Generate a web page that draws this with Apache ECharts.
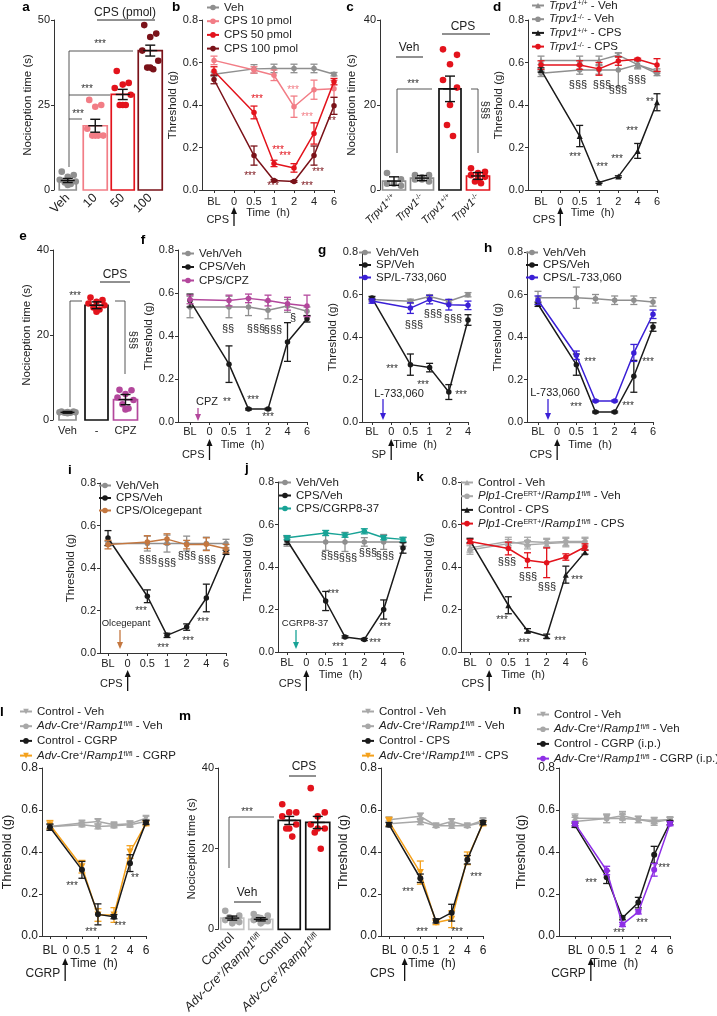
<!DOCTYPE html>
<html><head><meta charset="utf-8">
<script src="https://cdn.jsdelivr.net/npm/echarts@6/dist/echarts.min.js"></script>
<style>html,body{margin:0;padding:0;background:#fff}#c{width:717px;height:1016px}</style>
</head><body><div id="c"></div>
<script>
// ---------------- DATA ----------------
const timeLabels = ['BL','0','0.5','1','2','4','6'];
const timePos = [0,2,3,4,5,6];
const timePosG = [0,2,3,4,5];

// a
const aCats = ['Veh','10','50','100'];
const aMean = [2.8, 18.9, 28.1, 41.0];
const aSem = [0.6, 1.9, 1.5, 1.6];
const aDotsVeh = [5.4, 4.4, 3.9, 3.0, 2.5, 2.2, 1.8, 1.5];
const aDots10 = [26.5, 25.0, 24.5, 18.0, 16.0, 16.0, 16.0, 16.0];
const aDots50 = [35.0, 31.5, 31.0, 30.0, 28.0, 25.0, 25.0, 25.0];
const aDots100 = [48.5, 46.0, 45.0, 41.0, 38.0, 36.0, 35.5, 36.0];

// b
const bVeh = [0.545, 0.570, 0.572, 0.572, 0.572, 0.545];
const bVehErr = [0.010, 0.020, 0.020, 0.020, 0.020, 0.008];
const b10 = [0.610, 0.565, 0.540, 0.392, 0.472, 0.476];
const b10Err = [0.020, 0.015, 0.025, 0.050, 0.045, 0.040];
const b50 = [0.560, 0.365, 0.125, 0.104, 0.266, 0.510];
const b50Err = [0.020, 0.030, 0.015, 0.020, 0.050, 0.015];
const b100 = [0.520, 0.162, 0.045, 0.040, 0.162, 0.396];
const b100Err = [0.020, 0.045, 0.004, 0.004, 0.045, 0.040];

// c
const cCats = ['wt','ko','wt','ko'];
const cMean = [2.1, 2.8, 23.8, 3.3];
const cSem = [1.0, 0.6, 3.0, 0.8];
const cDotsWtVeh = [4.0, 2.5, 1.5, 1.5, 1.0];
const cDotsKoVeh = [3.5, 3.5, 3.0, 2.5, 2.0, 2.5];
const cDotsWtCps = [33.1, 31.8, 29.6, 25.9, 24.1, 20.0, 15.3, 12.7];
const cDotsKoCps = [5.1, 4.3, 4.0, 3.5, 3.1, 2.5, 2.0, 1.6];

// d
const dWtVeh = [0.610, 0.610, 0.610, 0.635, 0.590, 0.560];
const dWtVehErr = [0.020, 0.020, 0.020, 0.010, 0.020, 0.010];
const dKoVeh = [0.549, 0.565, 0.565, 0.565, 0.590, 0.548];
const dKoVehErr = [0.015, 0.020, 0.020, 0.080, 0.015, 0.010];
const dWtCps = [0.565, 0.254, 0.035, 0.063, 0.184, 0.413];
const dWtCpsErr = [0.010, 0.050, 0.004, 0.004, 0.035, 0.040];
const dKoCps = [0.588, 0.588, 0.570, 0.607, 0.615, 0.588];
const dKoCpsErr = [0.020, 0.020, 0.030, 0.020, 0.005, 0.030];

// e
const eCats = ['Veh','-','CPZ'];
const eMean = [1.8, 27.0, 4.8];
const eSem = [0.2, 0.8, 1.2];
const eDotsVeh = [2.0, 2.0, 1.9, 1.8, 1.8, 1.7, 1.7, 1.6];
const eDotsCps = [28.8, 28.2, 27.8, 27.4, 27.0, 26.5, 26.0, 25.5];
const eDotsCpz = [7.1, 7.0, 6.1, 5.3, 4.7, 3.7, 2.7, 2.5];

// f
const fVeh = [0.535, 0.535, 0.535, 0.520, 0.540, 0.515];
const fVehErr = [0.050, 0.050, 0.040, 0.040, 0.030, 0.020];
const fCps = [0.565, 0.269, 0.060, 0.060, 0.372, 0.480];
const fCpsErr = [0.030, 0.085, 0.004, 0.004, 0.090, 0.015];
const fCpz = [0.570, 0.565, 0.575, 0.565, 0.550, 0.540];
const fCpzErr = [0.020, 0.025, 0.020, 0.025, 0.030, 0.050];

// g
const gVeh = [0.576, 0.568, 0.591, 0.568, 0.599];
const gVehErr = [0.008, 0.010, 0.008, 0.008, 0.010];
const gSp = [0.583, 0.270, 0.256, 0.141, 0.480];
const gSpErr = [0.008, 0.050, 0.020, 0.035, 0.025];
const gL73 = [0.569, 0.536, 0.576, 0.552, 0.549];
const gL73Err = [0.010, 0.025, 0.020, 0.025, 0.020];

// h
const hVeh = [0.585, 0.585, 0.580, 0.573, 0.573, 0.565];
const hVehErr = [0.030, 0.050, 0.020, 0.020, 0.020, 0.020];
const hCps = [0.554, 0.270, 0.047, 0.047, 0.215, 0.447];
const hCpsErr = [0.010, 0.050, 0.004, 0.004, 0.075, 0.020];
const hL73 = [0.573, 0.314, 0.099, 0.099, 0.325, 0.507];
const hL73Err = [0.020, 0.020, 0.004, 0.004, 0.040, 0.020];

// i
const iVeh = [0.515, 0.515, 0.515, 0.515, 0.515, 0.515];
const iVehErr = [0.010, 0.035, 0.040, 0.035, 0.030, 0.020];
const iCps = [0.541, 0.267, 0.083, 0.122, 0.259, 0.474];
const iCpsErr = [0.035, 0.030, 0.010, 0.015, 0.065, 0.010];
const iOlc = [0.510, 0.522, 0.536, 0.510, 0.512, 0.491];
const iOlcErr = [0.020, 0.030, 0.025, 0.020, 0.030, 0.020];

// j
const jVeh = [0.518, 0.518, 0.518, 0.518, 0.518, 0.518];
const jVehErr = [0.020, 0.040, 0.045, 0.020, 0.035, 0.020];
const jCps = [0.526, 0.240, 0.071, 0.059, 0.200, 0.490];
const jCpsErr = [0.020, 0.045, 0.005, 0.005, 0.045, 0.025];
const jCgrp = [0.538, 0.560, 0.550, 0.568, 0.538, 0.530];
const jCgrpErr = [0.010, 0.012, 0.010, 0.012, 0.010, 0.010];

// k
const kCtrlVeh = [0.490, 0.520, 0.505, 0.510, 0.515, 0.515];
const kCtrlVehErr = [0.020, 0.020, 0.020, 0.020, 0.020, 0.020];
const kPlpVeh = [0.480, 0.510, 0.520, 0.515, 0.520, 0.520];
const kPlpVehErr = [0.020, 0.020, 0.020, 0.020, 0.020, 0.020];
const kCtrlCps = [0.525, 0.220, 0.100, 0.074, 0.364, 0.470];
const kCtrlCpsErr = [0.010, 0.040, 0.010, 0.010, 0.040, 0.010];
const kPlpCps = [0.520, 0.487, 0.432, 0.420, 0.447, 0.494];
const kPlpCpsErr = [0.010, 0.030, 0.035, 0.070, 0.015, 0.015];

// l
const lCtrlVeh = [0.522, 0.538, 0.545, 0.530, 0.535, 0.561];
const lAdvVeh = [0.520, 0.530, 0.522, 0.525, 0.530, 0.545];
const lVehErr = [0.010, 0.010, 0.012, 0.010, 0.012, 0.010];
const lCtrlCgrp = [0.518, 0.315, 0.103, 0.092, 0.347, 0.541];
const lCtrlCgrpErr = [0.015, 0.040, 0.050, 0.010, 0.040, 0.010];
const lAdvCgrp = [0.530, 0.330, 0.100, 0.100, 0.400, 0.535];
const lAdvCgrpErr = [0.020, 0.030, 0.030, 0.035, 0.030, 0.010];

// m
const mCats = ['ctrl','adv','ctrl','adv'];
const mMean = [2.8, 2.5, 27.0, 26.5];
const mSem = [0.5, 0.4, 1.0, 1.5];
const mDotsCtrlVeh = [4.6, 3.4, 2.6, 2.3, 1.8, 1.5, 3.0, 2.2];
const mDotsAdvVeh = [3.8, 3.4, 2.8, 2.3, 2.0, 1.5, 3.0, 2.0];
const mDotsCtrlCps = [31.0, 29.0, 29.0, 28.0, 26.0, 25.0, 25.0, 23.0];
const mDotsAdvCps = [35.0, 29.0, 28.0, 26.0, 25.0, 25.0, 24.0, 20.0];

// m (CPS lines)
const m2CtrlVeh = [0.553, 0.570, 0.525, 0.545, 0.525, 0.550];
const m2AdvVeh = [0.535, 0.545, 0.525, 0.525, 0.525, 0.540];
const m2VehErr = [0.012, 0.015, 0.008, 0.012, 0.008, 0.010];
const m2CtrlCps = [0.530, 0.275, 0.072, 0.111, 0.363, 0.540];
const m2CtrlCpsErr = [0.010, 0.020, 0.010, 0.040, 0.020, 0.010];
const m2AdvCps = [0.545, 0.302, 0.064, 0.080, 0.370, 0.535];
const m2AdvCpsErr = [0.020, 0.055, 0.010, 0.040, 0.030, 0.010];

// n
const nCtrlVeh = [0.561, 0.560, 0.573, 0.555, 0.550, 0.555];
const nAdvVeh = [0.545, 0.560, 0.560, 0.555, 0.542, 0.555];
const nVehErr = [0.020, 0.020, 0.020, 0.015, 0.015, 0.010];
const nCtrlCgrp = [0.527, 0.280, 0.087, 0.159, 0.387, 0.540];
const nCtrlCgrpErr = [0.010, 0.030, 0.010, 0.025, 0.040, 0.010];
const nAdvCgrp = [0.535, 0.312, 0.055, 0.115, 0.315, 0.535];
const nAdvCgrpErr = [0.010, 0.020, 0.010, 0.010, 0.030, 0.010];

// ---------------- STYLE / LAYOUT ----------------
const FONT = '"Liberation Sans", Arial, Helvetica, sans-serif';
const C = {gray:'#8f8f8f', lgray:'#a8a8a8', pink:'#f27d86', red:'#e3131c', dred:'#7a1219', black:'#1a1a1a',
  mag:'#b3479c', blue:'#3a1fd6', brown:'#c4773f', teal:'#18a396', orange:'#f4a11c', purple:'#8e2fe6'};

const grids=[], xAxes=[], yAxes=[], series=[], legends=[], G=[];
const axLine = {show:true, onZero:false, lineStyle:{color:'#333', width:1}};
const tickSt = {show:true, length:3, inside:false, lineStyle:{color:'#333', width:1}};

function rich(fs){
  return {
    it:{fontStyle:'italic', fontSize:fs, fontFamily:FONT, color:'#222'},
    sp:{fontSize:Math.round(fs*0.62), fontFamily:FONT, color:'#222', verticalAlign:'top'},
    n:{fontSize:fs, fontFamily:FONT, color:'#222'}
  };
}

function yAxisDef(gi, max, interval, fmt, name, gap, fs){
  yAxes.push({gridIndex:gi, type:'value', min:0, max, interval, name, nameLocation:'middle', nameGap:gap,
    nameTextStyle:{fontSize:fs+0.5, color:'#222', fontFamily:FONT},
    axisLine:axLine, axisTick:tickSt,
    axisLabel:{fontSize:fs, color:'#222', margin:4, formatter:fmt, fontFamily:FONT},
    splitLine:{show:false}});
}

// spec: [axisX, blX, lastX, nLast, top, height]
function linePanel(spec, yName, yGap, timeName, f){
  const [ax, bl, last, nLast, top, h] = spec;
  const s = (last-bl)/nLast;
  const gi = grids.length;
  grids.push({left:ax, top, width:last-ax, height:h});
  const ticks = []; for (let k=0;k<=nLast;k++) ticks.push(k);
  xAxes.push({gridIndex:gi, type:'value', min:-(bl-ax)/s, max:nLast,
    name: timeName ? 'Time  (h)' : '', nameLocation:'middle', nameGap:f.tg,
    nameTextStyle:{fontSize:f.t, color:'#222', fontFamily:FONT},
    axisLine:axLine, axisTick:Object.assign({customValues:ticks}, tickSt),
    axisLabel:{customValues:ticks, formatter:v=>timeLabels[Math.round(v)], fontSize:f.t, color:'#222', margin:f.lm, fontFamily:FONT},
    splitLine:{show:false}});
  yAxisDef(gi, 0.8, 0.2, v=>v.toFixed(1), yName, yGap, f.y);
  return {gi, zeroX: bl + s};
}

function barPanel(spec, cats, fmt, rot, lfs, lmargin, max, interval, yName, yGap){
  const [left, top, w, h] = spec;
  const gi = grids.length;
  grids.push({left, top, width:w, height:h});
  xAxes.push({gridIndex:gi, type:'category', data:cats, boundaryGap:true,
    axisLine:{show:false}, axisTick:{show:false},
    axisLabel:{interval:0, rotate:rot, fontSize:lfs, color:'#222', margin:lmargin, formatter:fmt, rich:rich(lfs), fontFamily:FONT},
    splitLine:{show:false}});
  yAxisDef(gi, max, interval, v=>String(v), yName, yGap, 11);
  return gi;
}

function errRender(color, cap, lw){
  return function(p, api){
    const x=api.value(0), y=api.value(1), e=api.value(2);
    const a=api.coord([x,y+e]), b=api.coord([x,y-e]);
    const st={stroke:color, lineWidth:lw};
    return {type:'group', children:[
      {type:'line', shape:{x1:a[0],y1:a[1],x2:b[0],y2:b[1]}, style:st},
      {type:'line', shape:{x1:a[0]-cap,y1:a[1],x2:a[0]+cap,y2:a[1]}, style:st},
      {type:'line', shape:{x1:b[0]-cap,y1:b[1],x2:b[0]+cap,y2:b[1]}, style:st}
    ]};
  };
}

function addLine(gi, name, vals, errs, color, o){
  o = o || {};
  const pos = o.pos || timePos;
  const z = o.z || 3;
  series.push({type:'line', name, xAxisIndex:gi, yAxisIndex:gi,
    data: vals.map((v,k)=>[pos[k], v]),
    symbol:o.symbol||'circle', symbolSize:o.size||5.5, symbolRotate:o.rot||0,
    lineStyle:{color, width:1.5}, itemStyle:{color}, z, silent:true, animation:false});
  if (errs) series.push({type:'custom', name:name+'_err', xAxisIndex:gi, yAxisIndex:gi,
    data: vals.map((v,k)=>[pos[k], v, errs[k]]), renderItem:errRender(color, 3.5, 1.3), z, silent:true, animation:false});
}

function addBars(gi, means, widths, colors){
  series.push({type:'custom', xAxisIndex:gi, yAxisIndex:gi, data:means.map((m,k)=>[k,m]), z:2, silent:true,
    renderItem:(p,api)=>{
      const k=api.value(0), m=api.value(1);
      const t=api.coord([k,m]), b=api.coord([k,0]); const w=widths[k];
      return {type:'rect', shape:{x:t[0]-w/2, y:t[1], width:w, height:b[1]-t[1]}, style:{fill:'#fff', stroke:colors[k], lineWidth:1.7}};
    }});
}
function addDots(gi, groups, colors, offs){
  const data=[]; groups.forEach((arr,k)=>arr.forEach((v,j)=>data.push([k,v,j])));
  series.push({type:'custom', xAxisIndex:gi, yAxisIndex:gi, data, z:3, silent:true,
    renderItem:(p,api)=>{
      const k=api.value(0), v=api.value(1), j=api.value(2);
      const t=api.coord([k,v]);
      return {type:'circle', shape:{cx:t[0]+offs[j%offs.length], cy:t[1], r:3.3}, style:{fill:colors[k]}};
    }});
}
function addBarErr(gi, means, sems){
  series.push({type:'custom', xAxisIndex:gi, yAxisIndex:gi, data:means.map((m,k)=>[k,m,sems[k]]), z:4, silent:true,
    renderItem:(p,api)=>{
      const k=api.value(0), m=api.value(1), e=api.value(2);
      const a=api.coord([k,m+e]), b=api.coord([k,m-e]), c=api.coord([k,m]);
      const st={stroke:'#111', lineWidth:1.4};
      return {type:'group', children:[
        {type:'line', shape:{x1:a[0],y1:a[1],x2:b[0],y2:b[1]}, style:st},
        {type:'line', shape:{x1:a[0]-5,y1:a[1],x2:a[0]+5,y2:a[1]}, style:st},
        {type:'line', shape:{x1:b[0]-5,y1:b[1],x2:b[0]+5,y2:b[1]}, style:st},
        {type:'line', shape:{x1:c[0]-7,y1:c[1],x2:c[0]+7,y2:c[1]}, style:st}
      ]};
    }});
}

const LEG = {
  b1:'Veh', b2:'CPS 10 pmol', b3:'CPS 50 pmol', b4:'CPS 100 pmol',
  d1:'{it|Trpv1}{sp|+/+} - Veh', d2:'{it|Trpv1}{sp|-/-} - Veh', d3:'{it|Trpv1}{sp|+/+} - CPS', d4:'{it|Trpv1}{sp|-/-} - CPS',
  f1:'Veh/Veh', f2:'CPS/Veh', f3:'CPS/CPZ',
  g1:'Veh/Veh', g2:'SP/Veh', g3:'SP/L-733,060',
  h1:'Veh/Veh', h2:'CPS/Veh', h3:'CPS/L-733,060',
  i1:'Veh/Veh', i2:'CPS/Veh', i3:'CPS/Olcegepant',
  j1:'Veh/Veh', j2:'CPS/Veh', j3:'CPS/CGRP8-37',
  k1:'Control - Veh', k2:'{it|Plp1}-Cre{sp|ERT+}/{it|Ramp1}{sp|fl/fl} - Veh', k3:'Control - CPS', k4:'{it|Plp1}-Cre{sp|ERT+}/{it|Ramp1}{sp|fl/fl} - CPS',
  l1:'Control - Veh', l2:'{it|Adv}-Cre{sp|+}/{it|Ramp1}{sp|fl/fl} - Veh', l3:'Control - CGRP', l4:'{it|Adv}-Cre{sp|+}/{it|Ramp1}{sp|fl/fl} - CGRP',
  p1:'Control - Veh', p2:'{it|Adv}-Cre{sp|+}/{it|Ramp1}{sp|fl/fl} - Veh', p3:'Control - CPS', p4:'{it|Adv}-Cre{sp|+}/{it|Ramp1}{sp|fl/fl} - CPS',
  n1:'Control - Veh', n2:'{it|Adv}-Cre{sp|+}/{it|Ramp1}{sp|fl/fl} - Veh', n3:'Control - CGRP (i.p.)', n4:'{it|Adv}-Cre{sp|+}/{it|Ramp1}{sp|fl/fl} - CGRP (i.p.)'
};
function addLegend(textX, y1, spacing, names, fs){
  const iw = 12, rowH = 11;
  legends.push({show:true, orient:'vertical', left:textX-iw-5, top:y1-rowH/2, itemWidth:iw, itemHeight:7,
    itemGap:spacing-rowH, padding:0, selectedMode:false, data:names, formatter:n=>LEG[n],
    textStyle:{fontSize:fs, color:'#222', fontFamily:FONT, lineHeight:rowH, rich:rich(fs)}});
}

// graphic helpers
function T(x, y, text, o){
  o = o || {};
  const fs = o.s || 10;
  G.push({type:'text', x, y, rotation:o.r||0, z:100, silent:true,
    style:{text, fill:o.c||'#222', font:(o.i?'italic ':'')+(o.b?'bold ':'')+fs+'px '+FONT,
      align:o.a||'center', verticalAlign:'middle', textAlign:o.a||'center', textVerticalAlign:'middle'}});
}
function P(points, color, w){
  G.push({type:'polyline', z:90, silent:true, shape:{points}, style:{stroke:color||'#444', lineWidth:w||0.9, fill:null}});
}
function arrow(x, yTail, yHead, color){
  const d = yHead > yTail ? 1 : -1;
  G.push({type:'line', z:90, silent:true, shape:{x1:x, y1:yTail, x2:x, y2:yHead-d*5}, style:{stroke:color, lineWidth:1.3}});
  G.push({type:'polygon', z:90, silent:true, shape:{points:[[x-3,yHead-d*7],[x+3,yHead-d*7],[x,yHead]]}, style:{fill:color}});
}
function stars(list, color){ list.forEach(s=>T(s[0], s[1], s[2]||'***', {s:10, c:color||'#333'})); }
function sects(list){ list.forEach(s=>T(s[0], s[1], s[2]||'§§§', {s:11, c:'#222', r:s[3]||0})); }

const F1 = {t:11, tg:16, lm:6, y:11};
const F2 = {t:11, tg:17, lm:4, y:11};
const F3 = {t:11, tg:17, lm:5, y:11};
const F4 = {t:12, tg:22, lm:9, y:12};

// ---------------- PANEL a ----------------
const ga = barPanel([54,20,110,170], aCats, v=>v, 45, 12.5, 6, 50, 25, 'Nociception time (s)', 20);
addBars(ga, aMean, [17,24,23,24], [C.gray, C.pink, C.red, C.dred]);
addDots(ga, [aDotsVeh, aDots10, aDots50, aDots100], [C.gray, C.pink, C.red, C.dred], [-6,6,0,-8,8,-3,3,0]);
addBarErr(ga, aMean, aSem);
T(125,13,'CPS (pmol)',{s:12}); P([[97,20],[155,20]], '#222', 1);
P([[69,167],[69,51],[133,51]]); P([[69,119],[82,119]]); P([[69,95],[110,95]]);
stars([[78,114],[87,89],[100,44]]);

// ---------------- PANEL b ----------------
const pb = linePanel([202,214,334,6,20,170], 'Threshold (g)', 19, true, F1);
addLine(pb.gi,'b1', bVeh, bVehErr, C.gray, {z:3});
addLine(pb.gi,'b2', b10, b10Err, C.pink, {z:4});
addLine(pb.gi,'b3', b50, b50Err, C.red, {z:5});
addLine(pb.gi,'b4', b100, b100Err, C.dred, {z:6});
addLegend(223, 7, 12.7, ['b1','b2','b3','b4'], 11.5);
stars([[293,90],[307,117]], C.pink);
stars([[257,99],[278,150],[285,156]], C.red);
stars([[250,176],[318,172],[273,186],[307,186],[332,121,'**']], C.dred);
arrow(pb.zeroX, 226, 207, '#111'); T(pb.zeroX-5, 220, 'CPS', {s:11, a:'right'});

// ---------------- PANEL c ----------------
const cFmt = (v,k)=> (k%2===0) ? '{it|Trpv1}{sp|+/+}' : '{it|Trpv1}{sp|-/-}';
const gc = barPanel([380,20,112,170], cCats, cFmt, 45, 11, 6, 40, 20, 'Nociception time (s)', 22);
addBars(gc, cMean, [23,23,22,23], [C.gray, C.gray, '#111', C.red]);
addDots(gc, [cDotsWtVeh, cDotsKoVeh, cDotsWtCps, cDotsKoCps], [C.gray, C.gray, C.red, C.red], [-7,7,0,-7,7,0,-3,3]);
addBarErr(gc, cMean, cSem);
T(409,48,'Veh',{s:12}); P([[396,57],[423,57]],'#222',1);
T(463,27,'CPS',{s:12}); P([[442,34],[490,34]],'#222',1);
P([[397,153],[397,89],[432,89]]); stars([[413,84]]);
P([[471,89],[478,89],[478,153]]); sects([[485,110,'§§§',-Math.PI/2]]);

// ---------------- PANEL d ----------------
const pd = linePanel([528,541,657,6,20,170], 'Threshold (g)', 20, true, F1);
addLine(pd.gi,'d1', dWtVeh, dWtVehErr, C.gray, {symbol:'triangle', size:6, z:3});
addLine(pd.gi,'d2', dKoVeh, dKoVehErr, C.gray, {z:3});
addLine(pd.gi,'d3', dWtCps, dWtCpsErr, C.black, {symbol:'triangle', size:6, z:5});
addLine(pd.gi,'d4', dKoCps, dKoCpsErr, C.red, {z:4});
addLegend(548, 5, 12.7, ['d1','d2','d3','d4'], 11.5);
sects([[578,85],[602,85],[618,90],[637,80]]);
stars([[575,157],[602,167],[617,159],[632,131],[650,102,'**']]);
arrow(pd.zeroX, 226, 207, '#111'); T(pd.zeroX-5, 220, 'CPS', {s:11, a:'right'});

// ---------------- PANEL e ----------------
const ge = barPanel([53,250,87,170], eCats, v=>v, 0, 11, 5, 40, 20, 'Nociception time (s)', 19);
addBars(ge, eMean, [17,23,24], [C.gray, '#111', C.mag]);
addDots(ge, [eDotsVeh, eDotsCps, eDotsCpz], [C.gray, C.red, C.mag], [-6,6,0,-8,8,-3,3,0]);
addBarErr(ge, eMean, eSem);
T(115,275,'CPS',{s:12}); P([[100,282],[130,282]],'#222',1);
P([[70,407],[70,301],[82,301]]); stars([[75,296]]);
P([[115,301],[125,301],[125,374]]); sects([[133,340,'§§§',-Math.PI/2]]);

// ---------------- PANEL f ----------------
const pf = linePanel([178,190,307,6,250,172], 'Threshold (g)', 22, true, F2);
addLine(pf.gi,'f1', fVeh, fVehErr, C.gray, {z:3});
addLine(pf.gi,'f2', fCps, fCpsErr, C.black, {z:4});
addLine(pf.gi,'f3', fCpz, fCpzErr, C.mag, {z:5});
addLegend(198, 253, 12.5, ['f1','f2','f3'], 11.5);
sects([[228,329,'§§'],[256,329],[273,330],[293,318,'§']]);
stars([[227,402,'**'],[253,400],[268,417]]);
T(207,402,'CPZ',{s:11}); arrow(198, 408, 421, C.mag);
arrow(pf.zeroX, 460, 439, '#111'); T(pf.zeroX-5, 455, 'CPS', {s:11, a:'right'});

// ---------------- PANEL g ----------------
const pg = linePanel([362,372,468,5,252,170], 'Threshold (g)', 21, true, F2);
addLine(pg.gi,'g1', gVeh, gVehErr, C.gray, {pos:timePosG, z:3});
addLine(pg.gi,'g2', gSp, gSpErr, C.black, {pos:timePosG, z:4});
addLine(pg.gi,'g3', gL73, gL73Err, C.blue, {pos:timePosG, z:5});
addLegend(375, 252, 11.5, ['g1','g2','g3'], 11.5);
sects([[414,325],[433,314],[453,319]]);
stars([[392,369],[423,385],[461,395]]);
T(399,394,'L-733,060',{s:11}); arrow(383, 399, 420, C.blue);
arrow(pg.zeroX, 460, 439, '#111'); T(pg.zeroX-5, 455, 'SP', {s:11, a:'right'});

// ---------------- PANEL h ----------------
const ph = linePanel([527,538,653,6,252,170], 'Threshold (g)', 23, true, F2);
addLine(ph.gi,'h1', hVeh, hVehErr, C.gray, {z:3});
addLine(ph.gi,'h2', hCps, hCpsErr, C.black, {z:4});
addLine(ph.gi,'h3', hL73, hL73Err, C.blue, {z:5});
addLegend(542, 252, 11.5, ['h1','h2','h3'], 11.5);
stars([[590,362],[576,407],[628,406],[648,362]]);
T(555,393,'L-733,060',{s:11}); arrow(548, 399, 420, C.blue);
arrow(ph.zeroX, 460, 439, '#111'); T(ph.zeroX-5, 455, 'CPS', {s:11, a:'right'});

// ---------------- PANEL i ----------------
const pi = linePanel([100,108,226,6,483,170], 'Threshold (g)', 21, false, F3);
addLine(pi.gi,'i1', iVeh, iVehErr, C.gray, {z:3});
addLine(pi.gi,'i2', iCps, iCpsErr, C.black, {z:4});
addLine(pi.gi,'i3', iOlc, iOlcErr, C.brown, {z:5});
addLegend(115, 485, 11.5, ['i1','i2','i3'], 11.5);
sects([[148,560],[167,563],[187,556],[207,560]]);
stars([[141,611],[163,648],[188,641],[203,622]]);
T(126,623,'Olcegepant',{s:9.5}); arrow(120, 630, 649, C.brown);
arrow(pi.zeroX, 691, 670, '#111'); T(pi.zeroX-5, 684, 'CPS', {s:11, a:'right'});

// ---------------- PANEL j ----------------
const pj = linePanel([278,287,403,6,482,170], 'Threshold (g)', 24, true, F3);
addLine(pj.gi,'j1', jVeh, jVehErr, C.gray, {z:3});
addLine(pj.gi,'j2', jCps, jCpsErr, C.black, {z:4});
addLine(pj.gi,'j3', jCgrp, jCgrpErr, C.teal, {z:5});
addLegend(295, 482, 12, ['j1','j2','j3'], 11.5);
sects([[330,556],[348,558],[368,553],[385,556]]);
stars([[333,594],[338,647],[375,643],[385,627]]);
T(305,623,'CGRP8-37',{s:9.5}); arrow(296, 630, 649, C.teal);
arrow(pj.zeroX, 691, 670, '#111'); T(pj.zeroX-5, 684, 'CPS', {s:11, a:'right'});

// ---------------- PANEL k ----------------
const pk = linePanel([461,470,585,6,482,170], 'Threshold (g)', 26, true, F3);
addLine(pk.gi,'k1', kCtrlVeh, kCtrlVehErr, C.lgray, {symbol:'triangle', size:6, z:3});
addLine(pk.gi,'k2', kPlpVeh, kPlpVehErr, C.lgray, {z:3});
addLine(pk.gi,'k3', kCtrlCps, kCtrlCpsErr, C.black, {symbol:'triangle', size:6, z:4});
addLine(pk.gi,'k4', kPlpCps, kPlpCpsErr, C.red, {z:5});
addLegend(477, 482, 12.7, ['k1','k2','k3','k4'], 11.5);
sects([[507,562],[528,577],[547,587]]);
stars([[502,620],[524,643],[560,641],[577,580]]);
arrow(pk.zeroX, 691, 670, '#111'); T(pk.zeroX-5, 684, 'CPS', {s:11, a:'right'});

// ---------------- PANEL l ----------------
const pl = linePanel([41,49,146,6,768,168], 'Threshold (g)', 28, true, F4);
addLine(pl.gi,'l1', lCtrlVeh, lVehErr, C.lgray, {symbol:'triangle', rot:180, size:7, z:3});
addLine(pl.gi,'l2', lAdvVeh, lVehErr, C.lgray, {size:6, z:3});
addLine(pl.gi,'l3', lCtrlCgrp, lCtrlCgrpErr, C.black, {size:6, z:5});
addLine(pl.gi,'l4', lAdvCgrp, lAdvCgrpErr, C.orange, {symbol:'triangle', rot:180, size:7, z:4});
addLegend(36, 711, 13.7, ['l1','l2','l3','l4'], 11.5);
stars([[72,886],[91,932],[120,926],[135,878,'**']]);
arrow(pl.zeroX, 981, 958, '#111'); T(pl.zeroX-5, 974, 'CGRP', {s:12, a:'right'});

// ---------------- PANEL m (bars) ----------------
const mFmt = (v,k)=> (k%2===0) ? 'Control' : '{it|Adv-Cre}{sp|+}{it|/Ramp1}{sp|fl/fl}';
const gm = barPanel([218,768,114,170], mCats, mFmt, 45, 12.5, 6, 40, 20, 'Nociception time (s)', 20);
addBars(gm, mMean, [23,24,22,24], ['#c4c4c4','#c4c4c4','#111','#111']);
addDots(gm, [mDotsCtrlVeh, mDotsAdvVeh, mDotsCtrlCps, mDotsAdvCps], [C.lgray, C.lgray, C.red, C.red], [-7,7,0,-7,7,0,-3,3]);
addBarErr(gm, mMean, mSem);
T(247,893,'Veh',{s:12}); P([[234,902],[261,902]],'#222',1);
T(304,767,'CPS',{s:12}); P([[289,776],[316,776]],'#222',1);
P([[229,868],[229,817],[274,817]]); stars([[247,812]]);

// ---------------- PANEL m (lines) ----------------
const pm = linePanel([381,389,483,6,768,168], 'Threshold (g)', 31, true, F4);
addLine(pm.gi,'p1', m2CtrlVeh, m2VehErr, C.lgray, {symbol:'triangle', rot:180, size:7, z:3});
addLine(pm.gi,'p2', m2AdvVeh, m2VehErr, C.lgray, {size:6, z:3});
addLine(pm.gi,'p3', m2CtrlCps, m2CtrlCpsErr, C.black, {size:6, z:5});
addLine(pm.gi,'p4', m2AdvCps, m2AdvCpsErr, C.orange, {symbol:'triangle', rot:180, size:7, z:4});
addLegend(378, 711, 13.7, ['p1','p2','p3','p4'], 11.5);
stars([[408,892],[422,932],[457,932],[476,877]]);
arrow(pm.zeroX, 981, 958, '#111'); T(pm.zeroX-10, 974, 'CPS', {s:12, a:'right'});

// ---------------- PANEL n ----------------
const pn = linePanel([559,575,670,6,768,168], 'Threshold (g)', 31, true, F4);
addLine(pn.gi,'n1', nCtrlVeh, nVehErr, C.lgray, {symbol:'triangle', rot:180, size:7, z:3});
addLine(pn.gi,'n2', nAdvVeh, nVehErr, C.lgray, {size:6, z:3});
addLine(pn.gi,'n3', nCtrlCgrp, nCtrlCgrpErr, C.black, {size:6, z:4});
addLine(pn.gi,'n4', nAdvCgrp, nAdvCgrpErr, C.purple, {size:6, z:5});
addLegend(553, 714, 13.7, ['n1','n2','n3','n4'], 11.5);
stars([[591,883],[619,933],[642,923],[664,868]]);
arrow(pn.zeroX, 981, 958, '#111'); T(pn.zeroX-5, 974, 'CGRP', {s:12, a:'right'});

// ---------------- panel letters ----------------
[['a',26,7],['b',176,7],['c',350,7],['d',497,7],['e',23,236],['f',143,240],['g',322,250],['h',488,248],
 ['i',70,470],['j',247,468],['k',420,477],['l',2,712],['m',185,716],['n',517,710]]
 .forEach(l=>T(l[1], l[2], l[0], {s:13.5, b:true, c:'#000'}));

const chart = echarts.init(document.getElementById('c'), null, {renderer:'canvas'});
chart.setOption({animation:false, backgroundColor:'#fff', textStyle:{fontFamily:FONT},
  grid:grids, xAxis:xAxes, yAxis:yAxes, legend:legends, series, graphic:G});
</script></body></html>
